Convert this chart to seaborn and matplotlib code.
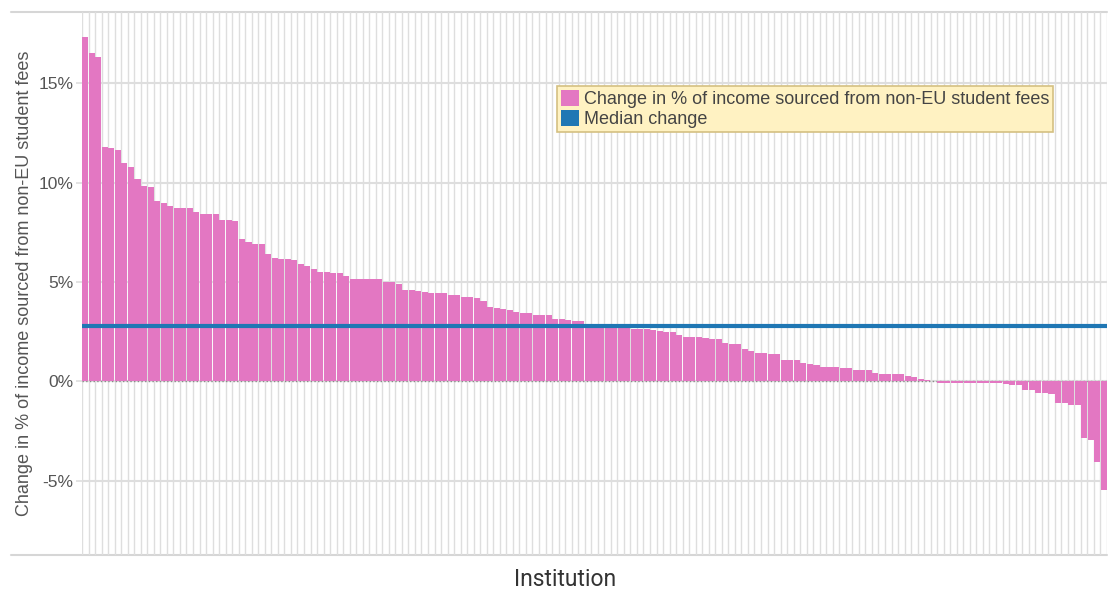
import numpy as np
import pandas as pd
import matplotlib
matplotlib.use('Agg')
import matplotlib.pyplot as plt
from matplotlib.patches import Patch
from matplotlib.ticker import FuncFormatter
import seaborn as sns

# change in % of income from non-EU student fees, one value per institution (sorted)
change_pct = [
    17.3, 16.5, 16.3, 11.8, 11.75, 11.65, 11.0, 10.8, 10.2, 9.85,
    9.75, 9.05, 8.95, 8.8, 8.7, 8.7, 8.7, 8.5, 8.4, 8.4,
    8.4, 8.1, 8.1, 8.05, 7.15, 7.0, 6.9, 6.9, 6.4, 6.2,
    6.15, 6.15, 6.1, 5.9, 5.8, 5.65, 5.5, 5.5, 5.45, 5.45,
    5.3, 5.15, 5.15, 5.15, 5.15, 5.15, 5.0, 5.0, 4.9, 4.6,
    4.6, 4.55, 4.5, 4.45, 4.45, 4.45, 4.35, 4.35, 4.25, 4.25,
    4.2, 4.05, 3.75, 3.7, 3.65, 3.6, 3.5, 3.45, 3.45, 3.35,
    3.35, 3.35, 3.15, 3.15, 3.1, 3.05, 3.02, 2.9, 2.81, 2.8,
    2.78, 2.76, 2.71, 2.71, 2.66, 2.66, 2.66, 2.61, 2.56, 2.51,
    2.51, 2.36, 2.26, 2.26, 2.26, 2.21, 2.16, 2.16, 1.91, 1.86,
    1.86, 1.61, 1.51, 1.41, 1.41, 1.36, 1.36, 1.1, 1.06, 1.06,
    0.95, 0.9, 0.85, 0.75, 0.75, 0.75, 0.69, 0.69, 0.59, 0.59,
    0.59, 0.44, 0.39, 0.39, 0.39, 0.39, 0.28, 0.23, 0.13, 0.08,
    0.03, -0.08, -0.08, -0.08, -0.08, -0.08, -0.08, -0.08, -0.08, -0.08,
    -0.08, -0.15, -0.2, -0.2, -0.45, -0.45, -0.6, -0.6, -0.65, -1.1,
    -1.1, -1.2, -1.2, -2.86, -2.96, -4.07, -5.45,
]
institution = list(range(len(change_pct)))
y_ticks = [-5, 0, 5, 10, 15]

bar_label = 'Change in % of income sourced from non-EU student fees'
median_label = 'Median change'

pink = '#e377c2'
blue = '#1f77b4'
grid_col = '#dedede'
text_col = '#555555'

sns.set_style('white')
plt.rcParams['font.family'] = ['Liberation Sans', 'DejaVu Sans']

df = pd.DataFrame({'institution': institution, 'change': change_pct})
median_change = np.median(df['change'])

fig = plt.figure(figsize=(11.08, 5.91), dpi=100)
ax = fig.add_axes([82 / 1108, 1 - 555 / 591, 1025 / 1108, 543 / 591])
ax.set_axisbelow(True)

sns.barplot(data=df, x='institution', y='change', color=pink, saturation=1,
            width=0.93, ax=ax, zorder=2)
for p in ax.patches:
    p.set_linewidth(0)

n = len(change_pct)
ax.set_xlim(-0.5, n - 0.5)
ax.set_ylim(-8.72, 18.57)

# vertical grid at every category boundary
ax.set_xticks([])
ax.set_xticks(np.arange(n + 1) - 0.5, minor=True)
ax.grid(True, which='minor', axis='x', color=grid_col, lw=1.0)
ax.tick_params(axis='x', which='minor', length=0)

ax.set_yticks(y_ticks)
ax.yaxis.set_major_formatter(FuncFormatter(lambda v, p: f'{v:.0f}%'))
ax.grid(True, which='major', axis='y', color=grid_col, lw=1.5)
ax.tick_params(axis='y', which='major', length=4.5, width=1.2, color=grid_col,
               pad=1.5, labelsize=12.5, labelcolor=text_col, left=True)

for s in ax.spines.values():
    s.set_visible(False)

# zero baseline (dotted) and median line
ax.axhline(0, color='#8a8a8a', lw=1, ls=':', zorder=1)
ax.axhline(median_change, color=blue, lw=3, zorder=3)

# top and bottom rules that run past the y axis
for yy in (0, 1):
    ax.plot([-71 / 1025, 1], [yy, yy], transform=ax.transAxes, color='#d6d6d6',
            lw=1.5, clip_on=False, zorder=0)

ax.set_xlabel('')
ax.set_ylabel('')
fig.text(25 / 1108, 1 - 283 / 591, 'Change in % of income sourced from non-EU student fees',
         rotation=90, ha='center', va='center', fontsize=13, color=text_col)
fig.text(565 / 1108, 1 - 579 / 591, 'Institution', ha='center', va='center',
         fontsize=16.5, color='#333333', family=['Roboto', 'DejaVu Sans'])

handles = [Patch(facecolor=pink, edgecolor='none', label=bar_label),
           Patch(facecolor=blue, edgecolor='none', label=median_label)]
leg = ax.legend(handles=handles, loc='upper left', bbox_to_anchor=(475 / 1025, 469 / 543),
                fontsize=13, frameon=True, fancybox=False, framealpha=1,
                handlelength=1.0, handleheight=1.0, handletextpad=0.3,
                borderpad=0.2, labelspacing=0.12, borderaxespad=0)
leg.get_frame().set_facecolor('#fff2c2')
leg.get_frame().set_edgecolor('#d4c082')
leg.get_frame().set_linewidth(1.2)
for t in leg.get_texts():
    t.set_color('#444444')

fig.savefig('out.png', dpi=100)
